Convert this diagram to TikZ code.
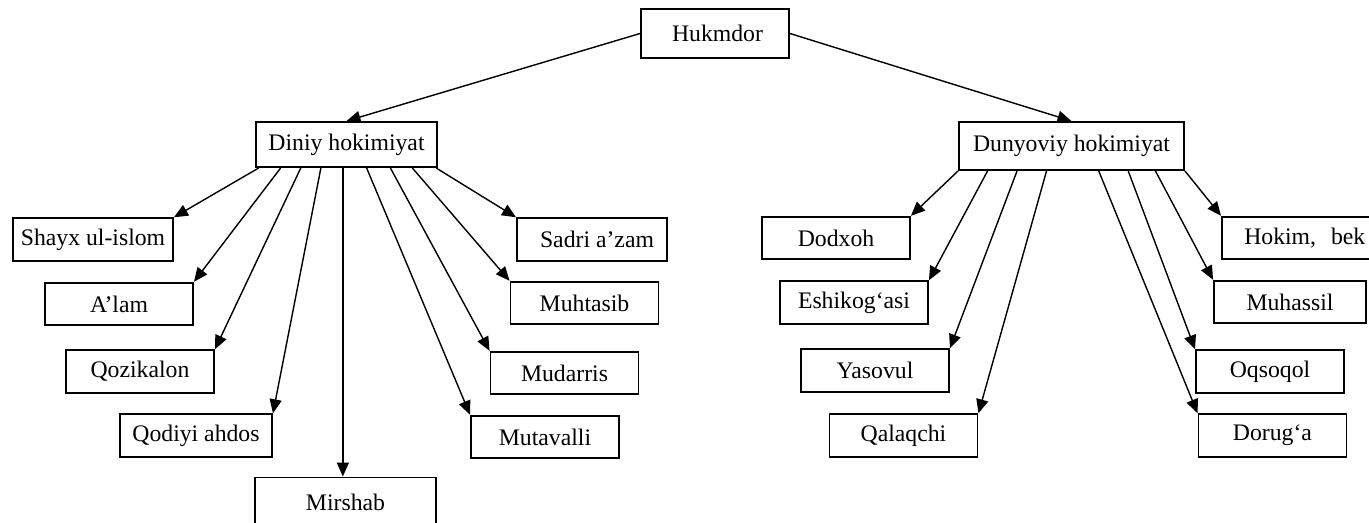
\documentclass[tikz,border=0pt]{standalone}
\usepackage{fontspec}
\setmainfont{Liberation Serif}
\usepackage{tikz}
\usetikzlibrary{arrows.meta,calc}

\begin{document}
\begin{tikzpicture}[x=0.02cm,y=-0.02cm]
        \tikzstyle{every node} = [rectangle, draw, line width=1.1pt, inner sep=0pt,
                minimum width=2.96cm, minimum height=0.85cm, font=\fontsize{13.5}{16}\selectfont]
        \clip (0,0) rectangle (1369,522);
        \node (hukmdor) at (715,33.5) [minimum height=0.98cm] {\hspace{0.1cm}Hukmdor};
        \node (diniy) at (346.5,144.5) [minimum width=3.62cm, minimum height=0.9cm] {Diniy hokimiyat};
        \node (dunyo) at (1071.5,146) [minimum width=4.5cm, minimum height=0.96cm] {Dunyoviy hokimiyat};
        % diniy
        \node (shayx) at (93,239.5) [minimum width=3.2cm] {Shayx ul-islom};
        \node (alam) at (119,304) {A’lam};
        \node (qozi) at (140,371.5) {Qozikalon};
        \node (qodiy) at (196,435.5) [minimum width=3.04cm] {Qodiyi ahdos};
        \node (mirshab) at (345.5,502) [minimum width=3.62cm, minimum height=0.98cm] {Mirshab};
        \node (sadri) at (592,239.5) [minimum width=3cm] {\hspace{0.2cm}Sadri a’zam};
        \node (muhtasib) at (584.5,303) {Muhtasib};
        \node (mudarris) at (564.5,373) {Mudarris};
        \node (mutavalli) at (545,437) {Mutavalli};
        % dunyoviy
        \node (dodxoh) at (836,238) {Dodxoh};
        \node (eshik) at (854,302.5) {Eshikog‘asi};
        \node (yasovul) at (875,370.5) {Yasovul};
        \node (qalaq) at (903.5,435.5) {Qalaqchi};
        \node (hokim) at (1296,238) {\hspace{0.35cm}Hokim,\hspace{0.18cm} bek};
        \node (muhassil) at (1290,302) [minimum width=3.04cm] {Muhassil};
        \node (oqsoqol) at (1270,371.5) {Oqsoqol};
        \node (doruga) at (1272.5,435.5) {Dorug‘a};
        \tikzstyle{every path} = [line width=0.8pt, -{Triangle[length=0.28cm, width=0.24cm]}]
        \draw (hukmdor.west) -- (diniy.north);
        \draw (hukmdor.east) -- (dunyo.north);
        \foreach \to/\f in {shayx/0.02, alam/0.14, qozi/0.25, qodiy/0.36}
            \draw ($(diniy.south west)!\f!(diniy.south east)$) -- (\to.north east);
        \draw ($(diniy.south west)!0.48!(diniy.south east)$) -- (mirshab.north -| {$(diniy.south west)!0.48!(diniy.south east)$});
        \foreach \to/\f in {mutavalli/0.61, mudarris/0.74, muhtasib/0.86, sadri/0.99}
            \draw ($(diniy.south west)!\f!(diniy.south east)$) -- (\to.north west);
        \foreach \to/\f in {dodxoh/0.0, eshik/0.13, yasovul/0.26, qalaq/0.39}
            \draw ($(dunyo.south west)!\f!(dunyo.south east)$) -- (\to.north east);
        \foreach \to/\f in {doruga/0.62, oqsoqol/0.75, muhassil/0.87, hokim/1.0}
            \draw ($(dunyo.south west)!\f!(dunyo.south east)$) -- (\to.north west);
    \end{tikzpicture}
\end{document}
